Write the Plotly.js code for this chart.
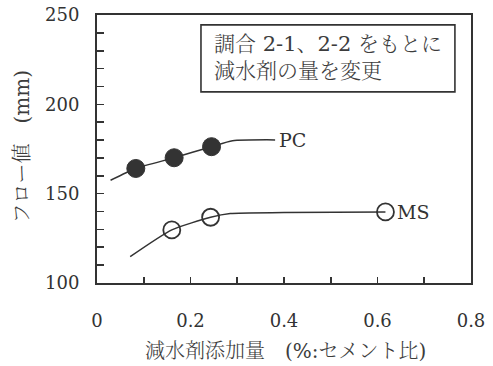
<!DOCTYPE html>
<html>
<head>
<meta charset="utf-8">
<script src="https://cdn.plot.ly/plotly-3.0.1.min.js"></script>
<style>html,body{margin:0;padding:0;background:#fff;}#chart{width:493px;height:366px;}</style>
</head>
<body>
<div id="chart"></div>
<script>
// Measured points (superplasticizer dosage %, flow mm)
const pcDose = [0.083, 0.165, 0.245];
const pcFlow = [164.1, 170.1, 176.3];
const msDose = [0.160, 0.243, 0.617];
const msFlow = [129.7, 136.8, 139.8];
// Fitted trend curves
const pcCurveX = [0.029, 0.083, 0.165, 0.245, 0.29, 0.381];
const pcCurveY = [157.5, 164.1, 170.1, 176.3, 179.6, 180.1];
const msCurveX = [0.071, 0.160, 0.243, 0.285, 0.400, 0.617];
const msCurveY = [114.7, 129.7, 136.8, 138.9, 139.4, 139.8];
const xTicks = [0, 0.2, 0.4, 0.6, 0.8];
const xTickText = ['0', '0.2', '0.4', '0.6', '0.8'];
const yTicks = [100, 150, 200, 250];
const seriesNames = ['PC', 'MS'];

const ink = '#333333';
const jink = '#3c3c3c';
const serif = 'DejaVu Serif, Noto Serif CJK JP, Noto Sans CJK JP, serif';
const jp = 'DejaVu Serif, Noto Serif CJK JP, Noto Sans CJK JP, sans-serif';

const traces = [
  {x: pcCurveX, y: pcCurveY, mode: 'lines', line: {color: ink, width: 1.5, shape: 'spline', smoothing: 0.6}, hoverinfo: 'skip', showlegend: false},
  {x: msCurveX, y: msCurveY, mode: 'lines', line: {color: ink, width: 1.5, shape: 'spline', smoothing: 0.6}, hoverinfo: 'skip', showlegend: false},
  {x: pcDose, y: pcFlow, mode: 'markers', name: seriesNames[0], marker: {symbol: 'circle', size: 18, color: ink, line: {color: ink, width: 1}}, showlegend: false},
  {x: msDose, y: msFlow, mode: 'markers', name: seriesNames[1], marker: {symbol: 'circle-open', size: 17, color: ink, line: {color: ink, width: 1.8}}, showlegend: false}
];

const layout = {
  width: 493, height: 366,
  margin: {l: 97, r: 22, t: 15, b: 83},
  paper_bgcolor: '#fff', plot_bgcolor: '#fff',
  showlegend: false,
  xaxis: {
    range: [0, 0.8], tickvals: xTicks, ticktext: xTickText,
    ticks: 'inside', ticklen: 6, tickwidth: 1.6, tickcolor: ink,
    minor: {dtick: 0.1, tick0: 0, ticks: 'inside', ticklen: 6, tickwidth: 1.6, tickcolor: ink, showgrid: false},
    showline: true, linewidth: 2, linecolor: ink, mirror: true,
    showgrid: false, zeroline: false,
    tickfont: {family: serif, size: 18, color: ink},
    ticklabelstandoff: 20
  },
  yaxis: {
    range: [100, 250], tickvals: yTicks,
    ticks: 'inside', ticklen: 7, tickwidth: 1.6, tickcolor: ink,
    minor: {dtick: 10, tick0: 100, ticks: 'inside', ticklen: 7, tickwidth: 1.6, tickcolor: ink, showgrid: false},
    showline: true, linewidth: 2, linecolor: ink, mirror: true,
    showgrid: false, zeroline: false,
    tickfont: {family: serif, size: 18, color: ink},
    ticklabelstandoff: 12
  },
  shapes: [
    {type: 'rect', xref: 'paper', yref: 'paper', x0: 0.278, x1: 0.957, y0: 0.713, y1: 0.963,
     line: {color: ink, width: 1.6}, fillcolor: 'rgba(0,0,0,0)'}
  ],
  annotations: [
    {xref: 'paper', yref: 'paper', x: 0.3075, y: 0.841, xanchor: 'left', yanchor: 'middle', align: 'left',
     showarrow: false, text: '調合 2-1、2-2 をもとに<br>減水剤の量を変更',
     font: {family: jp, size: 21, color: jink, weight: 300}},
    {x: pcCurveX[pcCurveX.length - 1], y: pcCurveY[pcCurveY.length - 1], xanchor: 'left', yanchor: 'middle',
     xshift: 2, showarrow: false, text: seriesNames[0], font: {family: serif, size: 19, color: ink}},
    {x: msDose[msDose.length - 1], y: msFlow[msFlow.length - 1], xanchor: 'left', yanchor: 'middle',
     xshift: 10, showarrow: false, text: seriesNames[1], font: {family: serif, size: 19, color: ink}},
    {xref: 'paper', yref: 'paper', x: 0.503, y: -0.254, xanchor: 'center', yanchor: 'middle',
     showarrow: false, text: '減水剤添加量　(%:セメント比)', font: {family: jp, size: 20, color: jink, weight: 300}},
    {xref: 'paper', yref: 'paper', x: -0.2, y: 0.51, xanchor: 'center', yanchor: 'middle', textangle: -90,
     showarrow: false, text: 'フロー値　(mm)', font: {family: jp, size: 20, color: jink, weight: 300}}
  ]
};

Plotly.newPlot('chart', traces, layout, {staticPlot: true, displayModeBar: false});
</script>
</body>
</html>
